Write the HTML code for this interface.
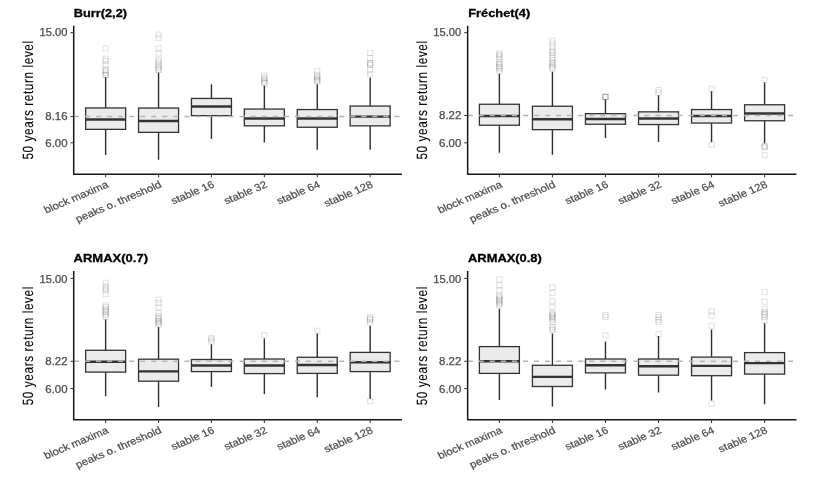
<!DOCTYPE html>
<html lang="en"><head><meta charset="utf-8"><title>50 years return level boxplots</title>
<style>html,body{margin:0;padding:0;background:#fff}svg{display:block}text{font-family:"Liberation Sans",Arial,Helvetica,sans-serif}.t{font-weight:bold;font-size:11.7px;fill:#000;stroke:#000;stroke-width:.3px}.yl{font-size:14.8px;fill:#000;stroke:#000;stroke-width:.1px;letter-spacing:.75px;text-rendering:geometricPrecision}.tk{font-size:10.0px;fill:#4d4d4d;text-anchor:end;stroke:#4d4d4d;stroke-width:.25px}.xl{font-size:10.15px;fill:#4d4d4d;text-anchor:end;stroke:#4d4d4d;stroke-width:.22px}.ax{stroke:#161616;stroke-width:1.5;fill:none;stroke-linecap:butt;stroke-linejoin:round}.tick{stroke:#333;stroke-width:1.05;fill:none}.bx{fill:#ebebeb;stroke:#333;stroke-width:1.3}.wh{stroke:#2e2e2e;stroke-width:1.4;fill:none}.md{stroke:#333;stroke-width:2.4;fill:none}.ref{stroke:#b5b5b5;stroke-width:1.5;stroke-dasharray:5.1 5.95;fill:none}.o{fill:none;stroke:#333;stroke-opacity:0.15;stroke-width:1.0}</style></head><body>
<svg width="830" height="482" viewBox="0 0 830 482">
<rect width="830" height="482" fill="#fff"/>
<g transform="translate(0 0.25)">
<g>
<text class="t" x="73.8" y="16.4" textLength="53.2" lengthAdjust="spacingAndGlyphs">Burr(2,2)</text>
<text class="yl" text-anchor="middle" transform="translate(32.6 99.67) rotate(-90)" textLength="119.3" lengthAdjust="spacingAndGlyphs">50 years return level</text>
<rect class="o" x="103.09" y="45.65" width="5.1" height="5.1"/>
<rect class="o" x="103.09" y="55.95" width="5.1" height="5.1"/>
<rect class="o" x="103.09" y="58.25" width="5.1" height="5.1"/>
<rect class="o" x="103.09" y="62.35" width="5.1" height="5.1"/>
<rect class="o" x="103.09" y="66.65" width="5.1" height="5.1"/>
<rect class="o" x="103.09" y="68.15" width="5.1" height="5.1"/>
<rect class="o" x="103.09" y="69.95" width="5.1" height="5.1"/>
<rect class="o" x="103.09" y="72.25" width="5.1" height="5.1"/>
<rect class="o" x="103.09" y="72.25" width="5.1" height="5.1"/>
<path class="wh" d="M105.64 77.1V107.7M105.64 129.1V154.7"/>
<rect class="bx" x="85.64" y="107.7" width="40" height="21.4"/>
<path class="md" d="M85.64 119.2H125.64"/>
<rect class="o" x="156" y="31.85" width="5.1" height="5.1"/>
<rect class="o" x="156" y="35.05" width="5.1" height="5.1"/>
<rect class="o" x="156" y="45.45" width="5.1" height="5.1"/>
<rect class="o" x="156" y="50.75" width="5.1" height="5.1"/>
<rect class="o" x="156" y="57.15" width="5.1" height="5.1"/>
<rect class="o" x="156" y="58.85" width="5.1" height="5.1"/>
<rect class="o" x="156" y="60.65" width="5.1" height="5.1"/>
<rect class="o" x="156" y="63.45" width="5.1" height="5.1"/>
<rect class="o" x="156" y="64.95" width="5.1" height="5.1"/>
<rect class="o" x="156" y="66.95" width="5.1" height="5.1"/>
<rect class="o" x="156" y="66.95" width="5.1" height="5.1"/>
<path class="wh" d="M158.55 72.5V107.8M158.55 132.1V159.5"/>
<rect class="bx" x="138.55" y="107.8" width="40" height="24.3"/>
<path class="md" d="M138.55 120.7H178.55"/>
<path class="wh" d="M211.45 84V98.2M211.45 115.4V138.7"/>
<rect class="bx" x="191.45" y="98.2" width="40" height="17.2"/>
<path class="md" d="M191.45 106.3H231.45"/>
<rect class="o" x="261.8" y="72.85" width="5.1" height="5.1"/>
<rect class="o" x="261.8" y="74.95" width="5.1" height="5.1"/>
<rect class="o" x="261.8" y="76.45" width="5.1" height="5.1"/>
<rect class="o" x="261.8" y="77.95" width="5.1" height="5.1"/>
<rect class="o" x="261.8" y="79.65" width="5.1" height="5.1"/>
<rect class="o" x="261.8" y="80.25" width="5.1" height="5.1"/>
<path class="wh" d="M264.35 85.5V108.8M264.35 125.6V142.3"/>
<rect class="bx" x="244.35" y="108.8" width="40" height="16.8"/>
<path class="md" d="M244.35 118.2H284.35"/>
<rect class="o" x="314.7" y="68.35" width="5.1" height="5.1"/>
<rect class="o" x="314.7" y="72.05" width="5.1" height="5.1"/>
<rect class="o" x="314.7" y="73.95" width="5.1" height="5.1"/>
<rect class="o" x="314.7" y="75.45" width="5.1" height="5.1"/>
<rect class="o" x="314.7" y="76.65" width="5.1" height="5.1"/>
<rect class="o" x="314.7" y="77.95" width="5.1" height="5.1"/>
<rect class="o" x="314.7" y="78.65" width="5.1" height="5.1"/>
<path class="wh" d="M317.25 84V109.3M317.25 127V149.6"/>
<rect class="bx" x="297.25" y="109.3" width="40" height="17.7"/>
<path class="md" d="M297.25 118.2H337.25"/>
<rect class="o" x="367.61" y="50.05" width="5.1" height="5.1"/>
<rect class="o" x="367.61" y="55.15" width="5.1" height="5.1"/>
<rect class="o" x="367.61" y="60.25" width="5.1" height="5.1"/>
<rect class="o" x="367.61" y="60.95" width="5.1" height="5.1"/>
<rect class="o" x="367.61" y="62.25" width="5.1" height="5.1"/>
<rect class="o" x="367.61" y="67.05" width="5.1" height="5.1"/>
<rect class="o" x="367.61" y="71.35" width="5.1" height="5.1"/>
<path class="wh" d="M370.16 77.2V105.8M370.16 125.6V149.6"/>
<rect class="bx" x="350.16" y="105.8" width="40" height="19.8"/>
<path class="md" d="M350.16 116.4H390.16"/>
<path class="ref" d="M73.9 116.3H401.9"/>
<path class="ax" d="M73.7 25.45V173.9H401.9"/>
<path class="tick" d="M70.5 32.4H73.9"/>
<text class="tk" x="67.5" y="36.2" textLength="27.9" lengthAdjust="spacingAndGlyphs">15.00</text>
<path class="tick" d="M70.5 116.3H73.9"/>
<text class="tk" x="67.5" y="120.1" textLength="22.2" lengthAdjust="spacingAndGlyphs">8.16</text>
<path class="tick" d="M70.5 142.55H73.9"/>
<text class="tk" x="67.5" y="146.35" textLength="22.2" lengthAdjust="spacingAndGlyphs">6.00</text>
<path class="tick" d="M105.64 173.6V177.1"/>
<text class="xl" transform="translate(109.34 186.6) scale(1.13 1) rotate(-25.6)">block maxima</text>
<path class="tick" d="M158.55 173.6V177.1"/>
<text class="xl" transform="translate(162.25 186.6) scale(1.13 1) rotate(-25.6)">peaks o. threshold</text>
<path class="tick" d="M211.45 173.6V177.1"/>
<text class="xl" transform="translate(215.15 186.6) scale(1.13 1) rotate(-25.6)">stable 16</text>
<path class="tick" d="M264.35 173.6V177.1"/>
<text class="xl" transform="translate(268.05 186.6) scale(1.13 1) rotate(-25.6)">stable 32</text>
<path class="tick" d="M317.25 173.6V177.1"/>
<text class="xl" transform="translate(320.95 186.6) scale(1.13 1) rotate(-25.6)">stable 64</text>
<path class="tick" d="M370.16 173.6V177.1"/>
<text class="xl" transform="translate(373.86 186.6) scale(1.13 1) rotate(-25.6)">stable 128</text>
</g>
<g>
<text class="t" x="468.25" y="16.4" textLength="62" lengthAdjust="spacingAndGlyphs">Fréchet(4)</text>
<text class="yl" text-anchor="middle" transform="translate(426.95 99.67) rotate(-90)" textLength="119.3" lengthAdjust="spacingAndGlyphs">50 years return level</text>
<rect class="o" x="496.84" y="50.55" width="5.1" height="5.1"/>
<rect class="o" x="496.84" y="51.95" width="5.1" height="5.1"/>
<rect class="o" x="496.84" y="53.65" width="5.1" height="5.1"/>
<rect class="o" x="496.84" y="56.45" width="5.1" height="5.1"/>
<rect class="o" x="496.84" y="59.45" width="5.1" height="5.1"/>
<rect class="o" x="496.84" y="60.95" width="5.1" height="5.1"/>
<rect class="o" x="496.84" y="62.75" width="5.1" height="5.1"/>
<rect class="o" x="496.84" y="64.45" width="5.1" height="5.1"/>
<rect class="o" x="496.84" y="65.75" width="5.1" height="5.1"/>
<rect class="o" x="496.84" y="68.35" width="5.1" height="5.1"/>
<path class="wh" d="M499.39 73.4V104M499.39 125V152.6"/>
<rect class="bx" x="479.39" y="104" width="40" height="21"/>
<path class="md" d="M479.39 115.7H519.39"/>
<rect class="o" x="549.88" y="37.95" width="5.1" height="5.1"/>
<rect class="o" x="549.88" y="40.95" width="5.1" height="5.1"/>
<rect class="o" x="549.88" y="44.25" width="5.1" height="5.1"/>
<rect class="o" x="549.88" y="48.05" width="5.1" height="5.1"/>
<rect class="o" x="549.88" y="49.95" width="5.1" height="5.1"/>
<rect class="o" x="549.88" y="51.85" width="5.1" height="5.1"/>
<rect class="o" x="549.88" y="55.15" width="5.1" height="5.1"/>
<rect class="o" x="549.88" y="57.45" width="5.1" height="5.1"/>
<rect class="o" x="549.88" y="59.45" width="5.1" height="5.1"/>
<rect class="o" x="549.88" y="60.95" width="5.1" height="5.1"/>
<rect class="o" x="549.88" y="62.75" width="5.1" height="5.1"/>
<rect class="o" x="549.88" y="64.45" width="5.1" height="5.1"/>
<rect class="o" x="549.88" y="65.75" width="5.1" height="5.1"/>
<path class="wh" d="M552.43 71.4V106M552.43 129.4V154.4"/>
<rect class="bx" x="532.43" y="106" width="40" height="23.4"/>
<path class="md" d="M532.43 119H572.43"/>
<rect class="o" x="602.92" y="94.15" width="5.1" height="5.1"/>
<rect class="o" x="602.92" y="94.15" width="5.1" height="5.1"/>
<rect class="o" x="602.92" y="94.35" width="5.1" height="5.1"/>
<rect class="o" x="602.92" y="93.95" width="5.1" height="5.1"/>
<path class="wh" d="M605.47 99.2V113.4M605.47 124V137.7"/>
<rect class="bx" x="585.47" y="113.4" width="40" height="10.6"/>
<path class="md" d="M585.47 118.7H625.47"/>
<rect class="o" x="655.96" y="87.25" width="5.1" height="5.1"/>
<rect class="o" x="655.96" y="89.85" width="5.1" height="5.1"/>
<path class="wh" d="M658.51 94.9V111.6M658.51 124.3V141.8"/>
<rect class="bx" x="638.51" y="111.6" width="40" height="12.7"/>
<path class="md" d="M638.51 118.2H678.51"/>
<rect class="o" x="709" y="86.05" width="5.1" height="5.1"/>
<rect class="o" x="709" y="141.95" width="5.1" height="5.1"/>
<path class="wh" d="M711.55 91.1V109.3M711.55 122.8V141.8"/>
<rect class="bx" x="691.55" y="109.3" width="40" height="13.5"/>
<path class="md" d="M691.55 115.7H731.55"/>
<rect class="o" x="762.04" y="77.15" width="5.1" height="5.1"/>
<rect class="o" x="762.04" y="142.95" width="5.1" height="5.1"/>
<rect class="o" x="762.04" y="143.65" width="5.1" height="5.1"/>
<rect class="o" x="762.04" y="144.75" width="5.1" height="5.1"/>
<rect class="o" x="762.04" y="152.35" width="5.1" height="5.1"/>
<path class="wh" d="M764.59 82.2V104.5M764.59 120.5V143"/>
<rect class="bx" x="744.59" y="104.5" width="40" height="16"/>
<path class="md" d="M744.59 113.3H784.59"/>
<path class="ref" d="M467.65 115.3H796.45"/>
<path class="ax" d="M467.65 25.45V173.9H796.45"/>
<path class="tick" d="M464.25 32.4H467.65"/>
<text class="tk" x="461.25" y="36.2" textLength="27.9" lengthAdjust="spacingAndGlyphs">15.00</text>
<path class="tick" d="M464.25 115.3H467.65"/>
<text class="tk" x="461.25" y="119.1" textLength="22.2" lengthAdjust="spacingAndGlyphs">8.22</text>
<path class="tick" d="M464.25 142.55H467.65"/>
<text class="tk" x="461.25" y="146.35" textLength="22.2" lengthAdjust="spacingAndGlyphs">6.00</text>
<path class="tick" d="M499.39 173.6V177.1"/>
<text class="xl" transform="translate(503.09 186.6) scale(1.13 1) rotate(-25.6)">block maxima</text>
<path class="tick" d="M552.43 173.6V177.1"/>
<text class="xl" transform="translate(556.13 186.6) scale(1.13 1) rotate(-25.6)">peaks o. threshold</text>
<path class="tick" d="M605.47 173.6V177.1"/>
<text class="xl" transform="translate(609.17 186.6) scale(1.13 1) rotate(-25.6)">stable 16</text>
<path class="tick" d="M658.51 173.6V177.1"/>
<text class="xl" transform="translate(662.21 186.6) scale(1.13 1) rotate(-25.6)">stable 32</text>
<path class="tick" d="M711.55 173.6V177.1"/>
<text class="xl" transform="translate(715.25 186.6) scale(1.13 1) rotate(-25.6)">stable 64</text>
<path class="tick" d="M764.59 173.6V177.1"/>
<text class="xl" transform="translate(768.29 186.6) scale(1.13 1) rotate(-25.6)">stable 128</text>
</g>
<g>
<text class="t" x="73.6" y="261.75" textLength="74.4" lengthAdjust="spacingAndGlyphs">ARMAX(0.7)</text>
<text class="yl" text-anchor="middle" transform="translate(32.6 345.43) rotate(-90)" textLength="119.3" lengthAdjust="spacingAndGlyphs">50 years return level</text>
<rect class="o" x="103.09" y="280" width="5.1" height="5.1"/>
<rect class="o" x="103.09" y="283.7" width="5.1" height="5.1"/>
<rect class="o" x="103.09" y="285.7" width="5.1" height="5.1"/>
<rect class="o" x="103.09" y="287.5" width="5.1" height="5.1"/>
<rect class="o" x="103.09" y="291.3" width="5.1" height="5.1"/>
<rect class="o" x="103.09" y="302.7" width="5.1" height="5.1"/>
<rect class="o" x="103.09" y="304.2" width="5.1" height="5.1"/>
<rect class="o" x="103.09" y="306" width="5.1" height="5.1"/>
<rect class="o" x="103.09" y="307.7" width="5.1" height="5.1"/>
<rect class="o" x="103.09" y="309.1" width="5.1" height="5.1"/>
<rect class="o" x="103.09" y="310.7" width="5.1" height="5.1"/>
<rect class="o" x="103.09" y="312.3" width="5.1" height="5.1"/>
<rect class="o" x="103.09" y="314" width="5.1" height="5.1"/>
<path class="wh" d="M105.64 319.15V350.05M105.64 371.85V395.95"/>
<rect class="bx" x="85.64" y="350.05" width="40" height="21.8"/>
<path class="md" d="M85.64 361.45H125.64"/>
<rect class="o" x="156" y="296.9" width="5.1" height="5.1"/>
<rect class="o" x="156" y="300.2" width="5.1" height="5.1"/>
<rect class="o" x="156" y="304.5" width="5.1" height="5.1"/>
<rect class="o" x="156" y="310.3" width="5.1" height="5.1"/>
<rect class="o" x="156" y="313.4" width="5.1" height="5.1"/>
<rect class="o" x="156" y="315.2" width="5.1" height="5.1"/>
<rect class="o" x="156" y="316.6" width="5.1" height="5.1"/>
<rect class="o" x="156" y="318" width="5.1" height="5.1"/>
<rect class="o" x="156" y="319.2" width="5.1" height="5.1"/>
<rect class="o" x="156" y="320.4" width="5.1" height="5.1"/>
<rect class="o" x="156" y="321.7" width="5.1" height="5.1"/>
<path class="wh" d="M158.55 326.75V358.95M158.55 380.95V406.75"/>
<rect class="bx" x="138.55" y="358.95" width="40" height="22"/>
<path class="md" d="M138.55 371.15H178.55"/>
<rect class="o" x="208.9" y="335.1" width="5.1" height="5.1"/>
<rect class="o" x="208.9" y="336.7" width="5.1" height="5.1"/>
<rect class="o" x="208.9" y="338.7" width="5.1" height="5.1"/>
<path class="wh" d="M211.45 343.95V359.25M211.45 371.35V386.85"/>
<rect class="bx" x="191.45" y="359.25" width="40" height="12.1"/>
<path class="md" d="M191.45 365.25H231.45"/>
<rect class="o" x="261.8" y="332.3" width="5.1" height="5.1"/>
<path class="wh" d="M264.35 338.15V358.75M264.35 373.35V393.65"/>
<rect class="bx" x="244.35" y="358.75" width="40" height="14.6"/>
<path class="md" d="M244.35 365.25H284.35"/>
<rect class="o" x="314.7" y="328" width="5.1" height="5.1"/>
<path class="wh" d="M317.25 333.15V357.05M317.25 373.15V396.95"/>
<rect class="bx" x="297.25" y="357.05" width="40" height="16.1"/>
<path class="md" d="M297.25 364.75H337.25"/>
<rect class="o" x="367.61" y="314.6" width="5.1" height="5.1"/>
<rect class="o" x="367.61" y="316" width="5.1" height="5.1"/>
<rect class="o" x="367.61" y="317.2" width="5.1" height="5.1"/>
<rect class="o" x="367.61" y="319.7" width="5.1" height="5.1"/>
<rect class="o" x="367.61" y="398.4" width="5.1" height="5.1"/>
<path class="wh" d="M370.16 325.55V352.15M370.16 371.35V398.45"/>
<rect class="bx" x="350.16" y="352.15" width="40" height="19.2"/>
<path class="md" d="M350.16 362.05H390.16"/>
<path class="ref" d="M73.9 361.05H401.9"/>
<path class="ax" d="M73.7 270.8V419.4H401.9"/>
<path class="tick" d="M70.5 278.15H73.9"/>
<text class="tk" x="67.5" y="282.25" textLength="27.9" lengthAdjust="spacingAndGlyphs">15.00</text>
<path class="tick" d="M70.5 361.05H73.9"/>
<text class="tk" x="67.5" y="365.15" textLength="22.2" lengthAdjust="spacingAndGlyphs">8.22</text>
<path class="tick" d="M70.5 388.3H73.9"/>
<text class="tk" x="67.5" y="392.4" textLength="22.2" lengthAdjust="spacingAndGlyphs">6.00</text>
<path class="tick" d="M105.64 419.35V422.85"/>
<text class="xl" transform="translate(109.34 432.35) scale(1.13 1) rotate(-25.6)">block maxima</text>
<path class="tick" d="M158.55 419.35V422.85"/>
<text class="xl" transform="translate(162.25 432.35) scale(1.13 1) rotate(-25.6)">peaks o. threshold</text>
<path class="tick" d="M211.45 419.35V422.85"/>
<text class="xl" transform="translate(215.15 432.35) scale(1.13 1) rotate(-25.6)">stable 16</text>
<path class="tick" d="M264.35 419.35V422.85"/>
<text class="xl" transform="translate(268.05 432.35) scale(1.13 1) rotate(-25.6)">stable 32</text>
<path class="tick" d="M317.25 419.35V422.85"/>
<text class="xl" transform="translate(320.95 432.35) scale(1.13 1) rotate(-25.6)">stable 64</text>
<path class="tick" d="M370.16 419.35V422.85"/>
<text class="xl" transform="translate(373.86 432.35) scale(1.13 1) rotate(-25.6)">stable 128</text>
</g>
<g>
<text class="t" x="468.05" y="261.75" textLength="73.8" lengthAdjust="spacingAndGlyphs">ARMAX(0.8)</text>
<text class="yl" text-anchor="middle" transform="translate(426.95 345.43) rotate(-90)" textLength="119.3" lengthAdjust="spacingAndGlyphs">50 years return level</text>
<rect class="o" x="496.84" y="276.7" width="5.1" height="5.1"/>
<rect class="o" x="496.84" y="282.5" width="5.1" height="5.1"/>
<rect class="o" x="496.84" y="287.5" width="5.1" height="5.1"/>
<rect class="o" x="496.84" y="292.6" width="5.1" height="5.1"/>
<rect class="o" x="496.84" y="294.4" width="5.1" height="5.1"/>
<rect class="o" x="496.84" y="295.9" width="5.1" height="5.1"/>
<rect class="o" x="496.84" y="297.2" width="5.1" height="5.1"/>
<rect class="o" x="496.84" y="298.4" width="5.1" height="5.1"/>
<rect class="o" x="496.84" y="299.7" width="5.1" height="5.1"/>
<rect class="o" x="496.84" y="301" width="5.1" height="5.1"/>
<rect class="o" x="496.84" y="302.7" width="5.1" height="5.1"/>
<path class="wh" d="M499.39 308.55V346.35M499.39 373.15V399.75"/>
<rect class="bx" x="479.39" y="346.35" width="40" height="26.8"/>
<path class="md" d="M479.39 360.95H519.39"/>
<rect class="o" x="549.88" y="284.5" width="5.1" height="5.1"/>
<rect class="o" x="549.88" y="290.1" width="5.1" height="5.1"/>
<rect class="o" x="549.88" y="298.4" width="5.1" height="5.1"/>
<rect class="o" x="549.88" y="304" width="5.1" height="5.1"/>
<rect class="o" x="549.88" y="310.3" width="5.1" height="5.1"/>
<rect class="o" x="549.88" y="311.7" width="5.1" height="5.1"/>
<rect class="o" x="549.88" y="312.8" width="5.1" height="5.1"/>
<rect class="o" x="549.88" y="314.2" width="5.1" height="5.1"/>
<rect class="o" x="549.88" y="315.4" width="5.1" height="5.1"/>
<rect class="o" x="549.88" y="317.2" width="5.1" height="5.1"/>
<rect class="o" x="549.88" y="319.2" width="5.1" height="5.1"/>
<rect class="o" x="549.88" y="324.2" width="5.1" height="5.1"/>
<rect class="o" x="549.88" y="326" width="5.1" height="5.1"/>
<rect class="o" x="549.88" y="327.3" width="5.1" height="5.1"/>
<path class="wh" d="M552.43 333.15V365.05M552.43 386.25V406.25"/>
<rect class="bx" x="532.43" y="365.05" width="40" height="21.2"/>
<path class="md" d="M532.43 376.65H572.43"/>
<rect class="o" x="602.92" y="312.3" width="5.1" height="5.1"/>
<rect class="o" x="602.92" y="314.1" width="5.1" height="5.1"/>
<rect class="o" x="602.92" y="332.6" width="5.1" height="5.1"/>
<path class="wh" d="M605.47 341.25V358.75M605.47 372.65V389.35"/>
<rect class="bx" x="585.47" y="358.75" width="40" height="13.9"/>
<path class="md" d="M585.47 365.05H625.47"/>
<rect class="o" x="655.96" y="312.1" width="5.1" height="5.1"/>
<rect class="o" x="655.96" y="314.6" width="5.1" height="5.1"/>
<rect class="o" x="655.96" y="317.1" width="5.1" height="5.1"/>
<rect class="o" x="655.96" y="319.2" width="5.1" height="5.1"/>
<rect class="o" x="655.96" y="331.3" width="5.1" height="5.1"/>
<path class="wh" d="M658.51 335.65V358.75M658.51 374.95V392.35"/>
<rect class="bx" x="638.51" y="358.75" width="40" height="16.2"/>
<path class="md" d="M638.51 366.05H678.51"/>
<rect class="o" x="709" y="308.5" width="5.1" height="5.1"/>
<rect class="o" x="709" y="312.8" width="5.1" height="5.1"/>
<rect class="o" x="709" y="323" width="5.1" height="5.1"/>
<rect class="o" x="709" y="401" width="5.1" height="5.1"/>
<path class="wh" d="M711.55 329.35V356.85M711.55 375.45V400.25"/>
<rect class="bx" x="691.55" y="356.85" width="40" height="18.6"/>
<path class="md" d="M691.55 365.65H731.55"/>
<rect class="o" x="762.04" y="289.1" width="5.1" height="5.1"/>
<rect class="o" x="762.04" y="298.9" width="5.1" height="5.1"/>
<rect class="o" x="762.04" y="306" width="5.1" height="5.1"/>
<rect class="o" x="762.04" y="309.1" width="5.1" height="5.1"/>
<rect class="o" x="762.04" y="310.7" width="5.1" height="5.1"/>
<rect class="o" x="762.04" y="312.1" width="5.1" height="5.1"/>
<rect class="o" x="762.04" y="314.1" width="5.1" height="5.1"/>
<rect class="o" x="762.04" y="317.7" width="5.1" height="5.1"/>
<path class="wh" d="M764.59 322.95V352.35M764.59 373.85V404.05"/>
<rect class="bx" x="744.59" y="352.35" width="40" height="21.5"/>
<path class="md" d="M744.59 362.85H784.59"/>
<path class="ref" d="M467.65 361.05H796.45"/>
<path class="ax" d="M467.65 270.8V419.4H796.45"/>
<path class="tick" d="M464.25 278.15H467.65"/>
<text class="tk" x="461.25" y="282.25" textLength="27.9" lengthAdjust="spacingAndGlyphs">15.00</text>
<path class="tick" d="M464.25 361.05H467.65"/>
<text class="tk" x="461.25" y="365.15" textLength="22.2" lengthAdjust="spacingAndGlyphs">8.22</text>
<path class="tick" d="M464.25 388.3H467.65"/>
<text class="tk" x="461.25" y="392.4" textLength="22.2" lengthAdjust="spacingAndGlyphs">6.00</text>
<path class="tick" d="M499.39 419.35V422.85"/>
<text class="xl" transform="translate(503.09 432.35) scale(1.13 1) rotate(-25.6)">block maxima</text>
<path class="tick" d="M552.43 419.35V422.85"/>
<text class="xl" transform="translate(556.13 432.35) scale(1.13 1) rotate(-25.6)">peaks o. threshold</text>
<path class="tick" d="M605.47 419.35V422.85"/>
<text class="xl" transform="translate(609.17 432.35) scale(1.13 1) rotate(-25.6)">stable 16</text>
<path class="tick" d="M658.51 419.35V422.85"/>
<text class="xl" transform="translate(662.21 432.35) scale(1.13 1) rotate(-25.6)">stable 32</text>
<path class="tick" d="M711.55 419.35V422.85"/>
<text class="xl" transform="translate(715.25 432.35) scale(1.13 1) rotate(-25.6)">stable 64</text>
<path class="tick" d="M764.59 419.35V422.85"/>
<text class="xl" transform="translate(768.29 432.35) scale(1.13 1) rotate(-25.6)">stable 128</text>
</g>
</g>
</svg></body></html>
